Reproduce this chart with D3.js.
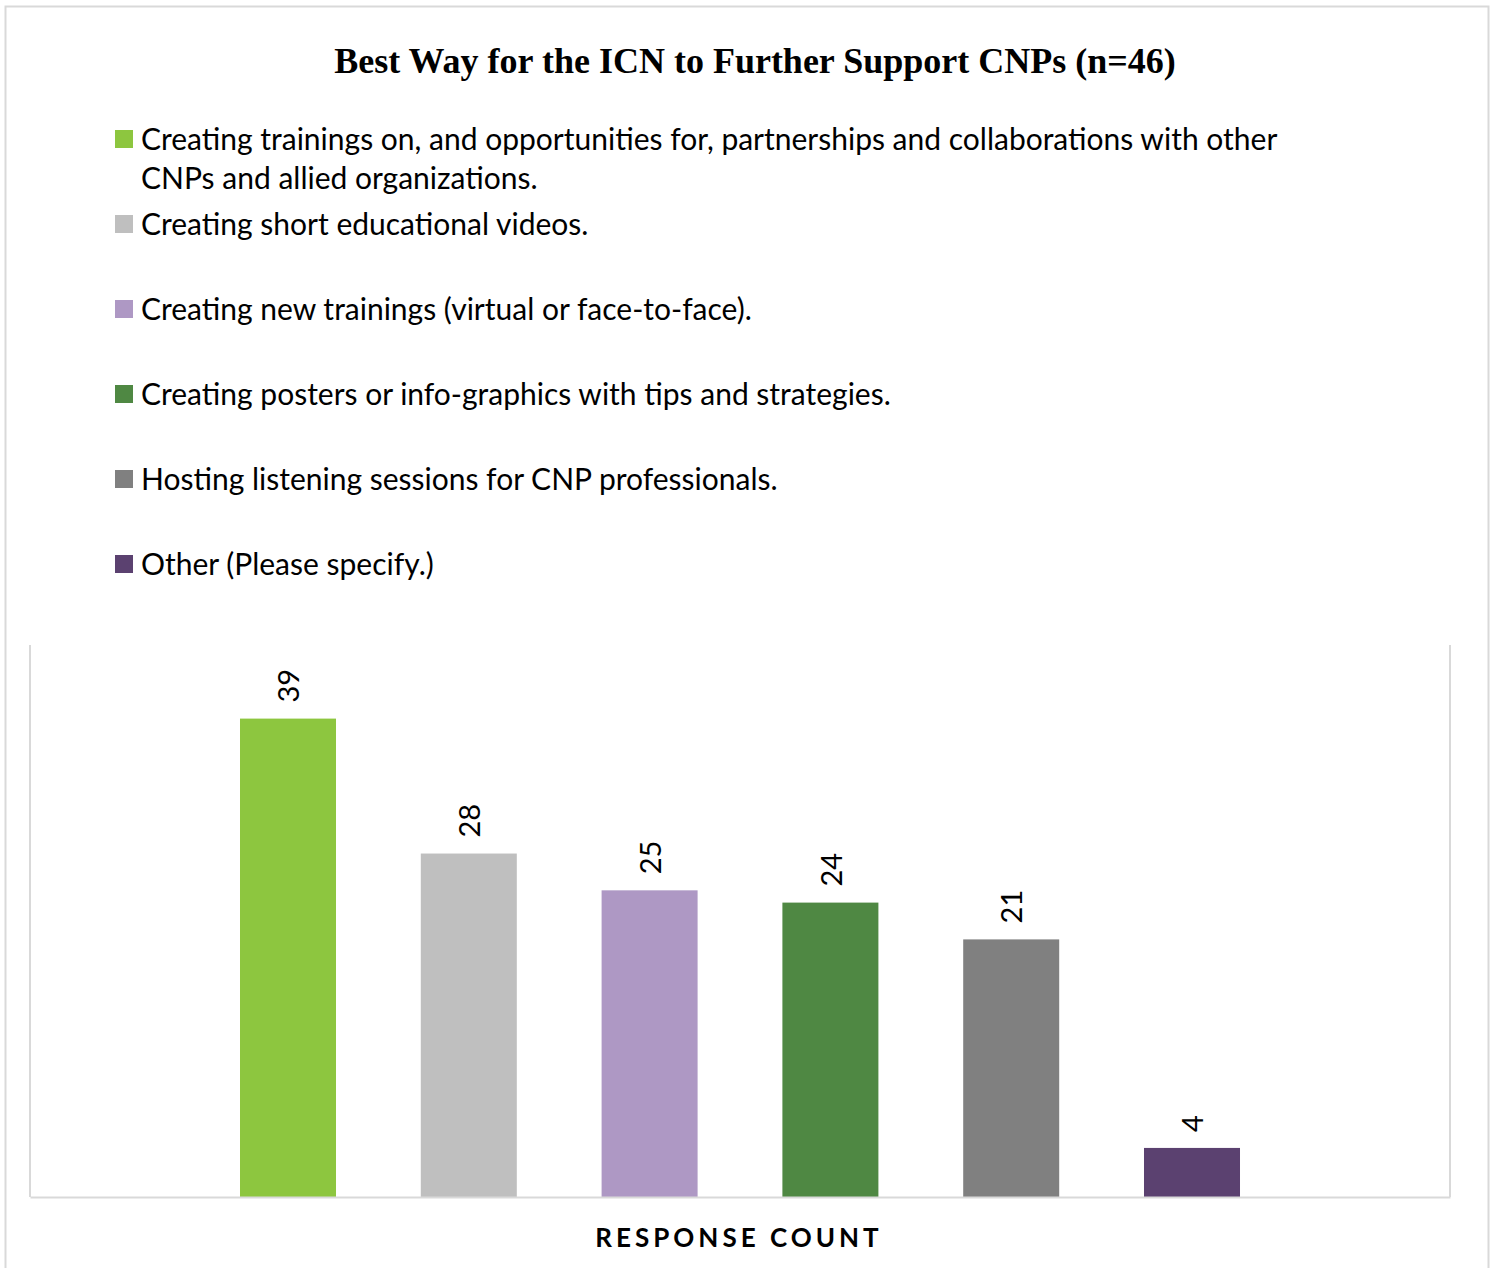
<!DOCTYPE html>
<html>
<head>
<meta charset="utf-8">
<script src="https://cdn.jsdelivr.net/npm/d3@7"></script>
<style>
  body { margin: 0; background: #fff; }
</style>
</head>
<body>
<div class="box"></div>
<script>
const categories = [
  "Creating trainings on, and opportunities for, partnerships and collaborations with other CNPs and allied organizations.",
  "Creating short educational videos.",
  "Creating new trainings (virtual or face-to-face).",
  "Creating posters or info-graphics with tips and strategies.",
  "Hosting listening sessions for CNP professionals.",
  "Other (Please specify.)"
];
// legend lines as wrapped in the original
const legendLines = [
  ["Creating trainings on, and opportunities for, partnerships and collaborations with other", "CNPs and allied organizations."],
  ["Creating short educational videos."],
  ["Creating new trainings (virtual or face-to-face)."],
  ["Creating posters or info-graphics with tips and strategies."],
  ["Hosting listening sessions for CNP professionals."],
  ["Other (Please specify.)"]
];
const counts = [39, 28, 25, 24, 21, 4];
const colours = ["#8dc63f", "#bfbfbf", "#ae98c4", "#4f8843", "#808080", "#5b4170"];
const title = "Best Way for the ICN to Further Support CNPs (n=46)";
const axisTitle = "RESPONSE COUNT";

const dims = {width: 1494, height: 1268};
const plot = {left: 30, right: 1450, top: 645, bottom: 1197};

const svg = d3.select('.box')
    .append('svg')
    .attr('width', dims.width)
    .attr('height', dims.height)
    .style('display', 'block');

// outer chart border
svg.append('rect')
    .attr('x', 5.5).attr('y', 6.5)
    .attr('width', 1483).attr('height', 1290)
    .attr('fill', 'none')
    .attr('stroke', '#d9d9d9')
    .attr('stroke-width', 2);

svg.append('text')
    .attr('x', 755).attr('y', 73)
    .attr('text-anchor', 'middle')
    .attr('font-family', '"Liberation Serif", "DejaVu Serif", serif')
    .attr('font-weight', 'bold')
    .attr('font-size', 36)
    .attr('fill', '#000')
    .text(title);

// legend
const colour = d3.scaleOrdinal().domain(categories).range(colours);
const legend = svg.append('g').attr('class', 'legend');
const item = legend.selectAll('g')
    .data(categories)
    .enter().append('g')
    .attr('transform', (d, i) => `translate(115,${139 + i * 85})`);
item.append('rect')
    .attr('x', 0).attr('y', -9)
    .attr('width', 18).attr('height', 18)
    .attr('fill', d => colour(d));
item.append('text')
    .attr('font-family', 'Lato, "Open Sans", sans-serif')
    .attr('font-size', 30)
    .attr('fill', '#000')
    .selectAll('tspan')
    .data((d, i) => legendLines[i])
    .enter().append('tspan')
    .attr('x', 26)
    .attr('y', (d, j) => j * 39)
    .attr('dy', '0.35em')
    .text(d => d);

// scales
const x = d3.scaleBand()
    .domain(categories)
    .range([197.6, 1282.4])
    .paddingInner(0.469)
    .paddingOuter(0.2345);
const y = d3.scaleLinear()
    .domain([0, 45])
    .range([plot.bottom, plot.top]);

// plot area border (left, right, bottom)
const frame = svg.append('g').attr('stroke', '#d9d9d9').attr('stroke-width', 2);
frame.append('line').attr('x1', plot.left).attr('x2', plot.left).attr('y1', plot.top).attr('y2', plot.bottom);
frame.append('line').attr('x1', plot.right).attr('x2', plot.right).attr('y1', plot.top).attr('y2', plot.bottom);

const graph = svg.append('g');
graph.selectAll('rect')
    .data(categories)
    .enter().append('rect')
    .attr('x', d => x(d))
    .attr('width', x.bandwidth())
    .attr('y', (d, i) => y(counts[i]))
    .attr('height', (d, i) => y(0) - y(counts[i]))
    .attr('fill', d => colour(d));

const xAxis = svg.append('g')
    .attr('transform', `translate(0,${plot.bottom})`)
    .call(d3.axisBottom(d3.scaleLinear().range([plot.left, plot.right])).ticks(0).tickSizeOuter(0));
xAxis.select('.domain').attr('stroke', '#d9d9d9').attr('stroke-width', 2);

graph.selectAll('text.val')
    .data(categories)
    .enter().append('text')
    .attr('class', 'val')
    .attr('transform', (d, i) => `translate(${x(d) + x.bandwidth() / 2 + 1},${y(counts[i]) - 16}) rotate(-90)`)
    .attr('text-anchor', 'start')
    .attr('dy', '0.35em')
    .attr('font-family', 'Lato, "Open Sans", sans-serif')
    .attr('font-size', 29)
    .attr('fill', '#000')
    .text((d, i) => counts[i]);

svg.append('text')
    .attr('x', 739).attr('y', 1247)
    .attr('text-anchor', 'middle')
    .attr('font-family', 'Lato, "Open Sans", sans-serif')
    .attr('font-weight', 'bold')
    .attr('font-size', 26)
    .attr('letter-spacing', 4)
    .attr('fill', '#000')
    .text(axisTitle);
</script>
</body>
</html>
